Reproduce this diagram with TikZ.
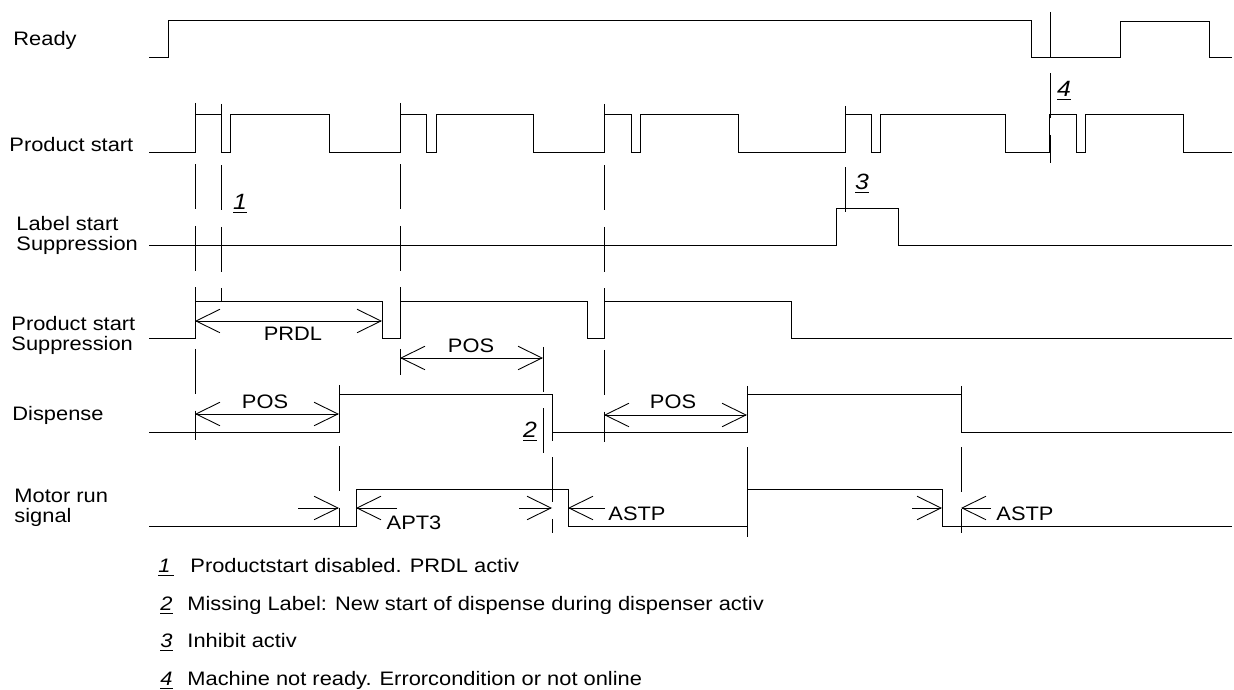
\documentclass[tikz,border=0pt]{standalone}
\usepackage{fontspec}
\setmainfont{Liberation Sans}[FakeStretch=1.12]
\usetikzlibrary{arrows.meta}
\newcommand{\mk}[1]{\underline{\itshape #1}}

\begin{document}
\begin{tikzpicture}[x=0.2mm,y=-0.2mm,line width=0.5pt,
  every node/.style={font=\fontsize{11.1pt}{11.4pt}\selectfont},
  guide/.style={dash pattern=on 9mm off 3.3mm},
  lbl/.style={anchor=west,align=left,inner sep=0pt},
  marknum/.style={font=\fontsize{12.6pt}{13pt}\selectfont},
  >={Straight Barb[length=4.8mm,width=4.7mm]}]
\useasboundingbox (0,0) rectangle (1234,690);
% signal names
\node[anchor=base west,inner sep=0pt] (ready) at (13,46) {Ready};
\node[anchor=base west,inner sep=0pt] (pstart) at (9,152) {Product start};
\node[lbl] (lss) at (16,235.5) {Label start\\Suppression};
\node[lbl] (pss) at (11,335) {Product start\\Suppression};
\node[anchor=base west,inner sep=0pt] (disp) at (12,421) {Dispense};
\node[lbl] (motor) at (14,507.5) {Motor run\\signal};
% signals
\draw (149,57) -- (168,57) -- (168,20) -- (1031,20) -- (1031,57) -- (1120,57) -- (1120,21) -- (1209,21) -- (1209,57) -- (1232,57);
\draw (149,152) -- (195,152) -- (195,114) -- (221,114) -- (221,152) -- (230,152) -- (230,114) -- (329,114) -- (329,152)
  -- (400,152) -- (400,114) -- (426,114) -- (426,152) -- (436,152) -- (436,114) -- (533,114) -- (533,152)
  -- (604,152) -- (604,114) -- (631,114) -- (631,152) -- (640,152) -- (640,114) -- (738,114) -- (738,152)
  -- (845,152) -- (845,114) -- (871,114) -- (871,152) -- (880,152) -- (880,114) -- (1005,114) -- (1005,152)
  -- (1049,152) -- (1049,114) -- (1076,114) -- (1076,152) -- (1085,152) -- (1085,114) -- (1183,114) -- (1183,152) -- (1232,152);
\draw (149,245.5) -- (836,245.5) -- (836,208.5) -- (898,208.5) -- (898,245.5) -- (1232,245.5);
\draw (149,338) -- (195,338) -- (195,301) -- (382,301) -- (382,338) -- (400,338) -- (400,301) -- (587,301) -- (587,338)
  -- (604,338) -- (604,301) -- (791,301) -- (791,338) -- (1232,338);
\draw (149,432) -- (339,432) -- (339,394.5) -- (552,394.5) -- (552,432) -- (747,432) -- (747,394.5) -- (961,394.5) -- (961,432) -- (1232,432);
\draw (149,526) -- (356,526) -- (356,489) -- (568,489) -- (568,526) -- (747,526) -- (747,489) -- (942,489) -- (942,526) -- (1232,526);
% guide lines
\draw[guide] (195,103) -- (195,440);
\draw[guide] (221,104) -- (221,301);
\draw[guide] (400,103) -- (400,375);
\draw[guide] (604,104) -- (604,442);
\draw[guide] (845,106) -- (845,213);
\draw[guide] (1050,12) -- (1050,163);
\draw[guide] (339,385) -- (339,526);
\draw[guide] (543,347) -- (543,453);
\draw[guide] (552,396) -- (552,533);
\draw[guide] (747,386) -- (747,537);
\draw[guide] (961,386) -- (961,533);
% times
\draw[<->] (195,321) -- (382,321);
\draw[<->] (400,358) -- (543,358);
\draw[<->] (195,414) -- (339,414);
\draw[<->] (604,415) -- (747,415);
\draw[->] (298,508) -- (339,508);
\draw[->] (397,508) -- (356,508);
\draw[->] (519,508) -- (552,508);
\draw[->] (605,508) -- (568,508);
\draw[->] (912,508) -- (942,508);
\draw[->] (991,508) -- (961,508);
\node (prdl) at (293,333.5) {PRDL};
\node (pos1) at (471,346) {POS};
\node (pos2) at (265,402) {POS};
\node (pos3) at (673,402) {POS};
\node (apt) at (414,523) {APT3};
\node (astp1) at (637,514) {ASTP};
\node (astp2) at (1025,514) {ASTP};
% marks
\node[marknum] (m1) at (240,204) {\mk{1}};
\node[marknum] (m2) at (530,432) {\mk{2}};
\node[marknum] (m3) at (862,184) {\mk{3}};
\node[marknum] (m4) at (1064,91) {\mk{4}};
% legend
\node[anchor=base west,inner sep=0pt] (k1) at (158,573) {\mk{1\,}};
\node[anchor=base west,inner sep=0pt] (t1) at (190,573) {Productstart disabled. PRDL activ};
\node[anchor=base west,inner sep=0pt] (k2) at (160,611) {\mk{2}};
\node[anchor=base west,inner sep=0pt] (t2) at (187,611) {Missing Label: New start of dispense during dispenser activ};
\node[anchor=base west,inner sep=0pt] (k3) at (160,648) {\mk{3}};
\node[anchor=base west,inner sep=0pt] (t3) at (187,648) {Inhibit activ};
\node[anchor=base west,inner sep=0pt] (k4) at (160,686) {\mk{4}};
\node[anchor=base west,inner sep=0pt] (t4) at (187,686) {Machine not ready. Errorcondition or not online};
\end{tikzpicture}
\end{document}
